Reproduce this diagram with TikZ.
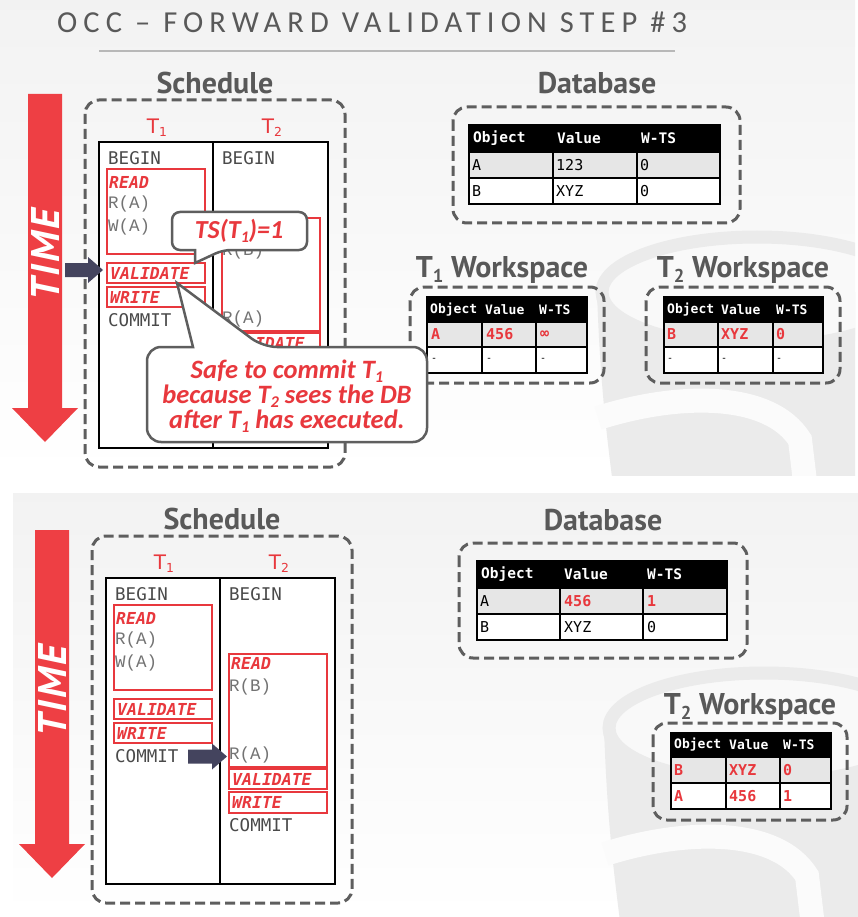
\documentclass[tikz,border=0pt]{standalone}
\usepackage{fontspec}
\setmainfont{DejaVu Sans}
\newfontfamily\headfont{PT Sans}
\newfontfamily\timefont[LetterSpace=6]{PT Sans}
\newfontfamily\titlefont[LetterSpace=20]{Carlito}
\newfontfamily\calfont{Carlito}
\newfontfamily\monofont{DejaVu Sans Mono}
\newfontfamily\thinmono{Liberation Mono}
\newfontfamily\tfont{DejaVu Sans}
\definecolor{red1}{HTML}{E8383D}
\definecolor{tgray}{HTML}{595959}
\definecolor{kgray}{HTML}{4A4A4A}
\definecolor{dgray}{HTML}{5E5E5E}
\definecolor{navy}{HTML}{44445E}
\definecolor{rowgray}{HTML}{E6E6E6}
\definecolor{wm}{HTML}{EBEBEB}
\definecolor{timered}{HTML}{EE3F44}
\newcommand{\sbs}[1]{\raisebox{-0.3ex}{\scalebox{0.62}{#1}}}
\tikzset{
  dbox/.style={draw=dgray, line width=3pt, dash pattern=on 10pt off 5pt, rounded corners=14pt},
  redbox/.style={draw=red1, line width=1.2pt},
  heading/.style={text=tgray, font=\headfont\bfseries\fontsize{30}{32}\selectfont, inner sep=0pt},
  kw/.style={anchor=west, inner sep=0pt, text=kgray, font=\monofont\fontsize{17.5}{20}\selectfont},
  optxt/.style={anchor=west, inner sep=0pt, text=black!55, font=\thinmono\fontsize{17.5}{20}\selectfont},
  phasetxt/.style={anchor=west, inner sep=0pt, text=red1, font=\monofont\bfseries\itshape\fontsize{16.5}{20}\selectfont},
  tlabel/.style={text=red1, font=\tfont\fontsize{20}{22}\selectfont, inner sep=0pt},
  thbig/.style={anchor=west, inner sep=0pt, text=white, font=\monofont\bfseries\fontsize{14.5}{16}\selectfont},
  thsmall/.style={anchor=west, inner sep=0pt, text=white, font=\monofont\bfseries\fontsize{13}{15}\selectfont},
  tdtxt/.style={anchor=west, inner sep=0pt, text=black, font=\monofont\fontsize{15}{17}\selectfont},
  tdred/.style={anchor=west, inner sep=0pt, text=red1, font=\monofont\bfseries\fontsize{15}{17}\selectfont},
  tddash/.style={anchor=west, inner sep=0pt, text=black, font=\monofont\fontsize{10}{12}\selectfont},
  callbox/.style={draw=dgray, fill=white, line width=2.5pt},
  ctext/.style={text=red1, font=\calfont\bfseries\itshape\fontsize{26.5}{25}\selectfont, align=center, inner sep=0pt},
  timetxt/.style={rotate=90, text=white, font=\timefont\bfseries\itshape\fontsize{40}{40}\selectfont, inner sep=0pt},
}
% table: #1 name, #2-#5 x0..x3, #6-#9 y0..y3
\newcommand{\drawtable}[9]{%
  \fill[black] (#2,#6) rectangle (#5,#7);
  \fill[rowgray] (#2,#7) rectangle (#5,#8);
  \fill[white] (#2,#8) rectangle (#5,#9);
  \draw[line width=1.5pt] (#2,#6) rectangle (#5,#9) (#2,#7) -- (#5,#7) (#2,#8) -- (#5,#8)
     (#3,#7) -- (#3,#9) (#4,#7) -- (#4,#9);
  \coordinate (#1) at (#2,#6);
}
\newcommand{\timearrow}[1]{%
  \fill[timered] (28,94) -- (62,94) -- (62,408) -- (78,408) -- (45,442) -- (12,408) -- (28,408) -- cycle;
  \node[timetxt] (#1time) at (45,255) {TIME};
}
\newcommand{\darrow}[3]{%
  \fill[navy] ({#1},{#3-7}) -- ({#2-15},{#3-7}) -- ({#2-15},{#3-13}) -- ({#2},{#3}) -- ({#2-15},{#3+13}) -- ({#2-15},{#3+7}) -- ({#1},{#3+7}) -- cycle;
}
\newcommand{\schedpic}[1]{%
  \node[heading] (#1head) at (215,83) {Schedule};
  \draw[dbox] (85,100) rectangle (345,467);
  \node[tlabel] (#1ta) at (157,128) {T\sbs{1}};
  \node[tlabel] (#1tb) at (272,128) {T\sbs{2}};
  \draw[fill=white, line width=1.1pt] (99,142) rectangle (328,448);
  \draw[line width=1.1pt] (213,142) -- (213,448);
  \node[kw] (#1beginA) at (108,158) {BEGIN};
  \node[kw] (#1beginB) at (222,158) {BEGIN};
  \draw[redbox] (107,169) rectangle (205,254);
  \node[phasetxt] (#1readA) at (109,182) {READ};
  \node[optxt] (#1raA) at (108,204) {R(A)};
  \node[optxt] (#1waA) at (108,227) {W(A)};
  \draw[redbox] (107,263) rectangle (205,283);
  \node[phasetxt] (#1valA) at (110,273) {VALIDATE};
  \draw[redbox] (107,287) rectangle (205,307);
  \node[phasetxt] (#1wrA) at (110,297) {WRITE};
  \node[kw] (#1comA) at (108,320) {COMMIT};
  \draw[redbox] (222,218) rectangle (320,331);
  \node[phasetxt] (#1readB) at (224,227) {READ};
  \node[optxt] (#1rbB) at (222,251) {R(B)};
  \node[optxt] (#1raB) at (222,319) {R(A)};
  \draw[redbox] (222,333) rectangle (320,353);
  \node[phasetxt] (#1valB) at (225,343) {VALIDATE};
  \draw[redbox] (222,356) rectangle (320,377);
  \node[phasetxt] (#1wrB) at (225,366) {WRITE};
  \node[kw] (#1comB) at (222,389) {COMMIT};
}
\newcommand{\wmark}{%
  \fill[wm] (597,292) .. controls (600,380) and (606,430) .. (613,485) -- (870,485) -- (870,292) -- cycle;
  \fill[black!2.5] (757,292) ellipse [x radius=155, y radius=55];
  \draw[wm, line width=13pt] (757,292) ellipse [x radius=155, y radius=55];
  \draw[black!1.5, line width=24pt] (598,418) .. controls (680,392) and (770,392) .. (800,440) -- (806,490);
}
\begin{document}
\begin{tikzpicture}[x=1pt, y=-1pt]
\useasboundingbox (0,0) rectangle (858,917);
% backgrounds
\shade[top color=black!5, bottom color=white] (0,0) rectangle (855,475);
\shade[top color=black!5, bottom color=white] (13,493) rectangle (858,917);
\begin{scope}
  \clip (0,0) rectangle (855,475);
  \wmark
\end{scope}
\begin{scope}[shift={(7,436)}]
  \clip (6,57) rectangle (851,481);
  \wmark
\end{scope}
% title
\node[anchor=base west, inner sep=0pt, text=tgray, font=\titlefont\fontsize{30.5}{30}\selectfont] (title) at (57,33) {OCC – FORWARD VALIDATION STEP \#3};
\draw[black!28, line width=2pt] (99,51) -- (675,51);

% ---------- top slide ----------
\timearrow{a}
\schedpic{a}
\darrow{65}{103}{270}
% database
\node[heading] (adbh) at (597,83) {Database};
\draw[dbox] (453,107) rectangle (740,223);
\drawtable{adb}{469}{553}{637}{720}{125}{152}{178}{204}
\node[thbig] (adb1) at (473,138.5) {Object};
\node[thbig] (adb2) at (557,138.5) {Value};
\node[thbig] (adb3) at (641,138.5) {W-TS};
\node[tdtxt] (adb4) at (472,165) {A};
\node[tdtxt] (adb5) at (556,165) {123};
\node[tdtxt] (adb6) at (640,165) {0};
\node[tdtxt] (adb7) at (472,191) {B};
\node[tdtxt] (adb8) at (556,191) {XYZ};
\node[tdtxt] (adb9) at (640,191) {0};
% T1 workspace
\node[heading] (aw1h) at (502,270) {T\sbs{1} Workspace};
\draw[dbox] (410,287) rectangle (604,383);
\drawtable{aw1}{427}{482}{536}{587}{297}{322}{347}{373}
\node[thsmall] (aw11) at (430,309.5) {Object};
\node[thsmall] (aw12) at (485,309.5) {Value};
\node[thsmall] (aw13) at (539,309.5) {W-TS};
\node[tdred] (aw14) at (431,334.5) {A};
\node[tdred] (aw15) at (486,334.5) {456};
\node[tdred] (aw16) at (540,334.5) {∞};
\node[tddash] (aw17) at (431,360) {-};
\node[tddash] (aw18) at (486,360) {-};
\node[tddash] (aw19) at (540,360) {-};
% T2 workspace
\node[heading] (aw2h) at (743,270) {T\sbs{2} Workspace};
\draw[dbox] (646,287) rectangle (840,383);
\drawtable{aw2}{664}{718}{773}{823}{297}{322}{347}{373}
\node[thsmall] (aw21) at (667,309.5) {Object};
\node[thsmall] (aw22) at (721,309.5) {Value};
\node[thsmall] (aw23) at (776,309.5) {W-TS};
\node[tdred] (aw24) at (667,334.5) {B};
\node[tdred] (aw25) at (721,334.5) {XYZ};
\node[tdred] (aw26) at (776,334.5) {0};
\node[tddash] (aw27) at (667,360) {-};
\node[tddash] (aw28) at (721,360) {-};
\node[tddash] (aw29) at (776,360) {-};
% callouts
\draw[callbox, rounded corners=8pt] (240,212) -- (307,212) -- (307,250) -- (223,250) [sharp corners] -- (195,263) -- (195,250) [rounded corners=8pt] -- (172,250) -- (172,212) -- cycle;
\node[text=red1, font=\calfont\bfseries\itshape\fontsize{26}{26}\selectfont, inner sep=0pt] (ts) at (239,231) {TS(T\sbs{1})=1};
\draw[callbox, rounded corners=14pt] (300,442) -- (427,442) -- (427,347) -- (263,347) [sharp corners] -- (177,283) -- (193,347) [rounded corners=14pt] -- (147,347) -- (147,442) -- cycle;
\node[ctext] (safe) at (287,396) {Safe to commit T\sbs{1}\\because T\sbs{2} sees the DB\\after T\sbs{1} has executed.};

% ---------- bottom slide ----------
\begin{scope}[shift={(7,436)}]
  \timearrow{b}
  \schedpic{b}
  \darrow{181}{220}{320.5}
\end{scope}
\node[heading] (bdbh) at (603,520) {Database};
\draw[dbox] (459,543) rectangle (747,658);
\drawtable{bdb}{477}{560}{643}{727}{561}{588}{614}{640}
\node[thbig] (bdb1) at (481,574.5) {Object};
\node[thbig] (bdb2) at (564,574.5) {Value};
\node[thbig] (bdb3) at (647,574.5) {W-TS};
\node[tdtxt] (bdb4) at (480,601) {A};
\node[tdred] (bdb5) at (564,601) {456};
\node[tdred] (bdb6) at (647,601) {1};
\node[tdtxt] (bdb7) at (480,627) {B};
\node[tdtxt] (bdb8) at (564,627) {XYZ};
\node[tdtxt] (bdb9) at (647,627) {0};
\node[heading] (bw2h) at (750,707) {T\sbs{2} Workspace};
\draw[dbox] (653,723) rectangle (847,820);
\drawtable{bw2}{671}{726}{780}{831}{733}{757}{783}{809}
\node[thsmall] (bw21) at (674,745) {Object};
\node[thsmall] (bw22) at (729,745) {Value};
\node[thsmall] (bw23) at (783,745) {W-TS};
\node[tdred] (bw24) at (674,770) {B};
\node[tdred] (bw25) at (729,770) {XYZ};
\node[tdred] (bw26) at (783,770) {0};
\node[tdred] (bw27) at (674,796) {A};
\node[tdred] (bw28) at (729,796) {456};
\node[tdred] (bw29) at (783,796) {1};
\end{tikzpicture}
\end{document}
